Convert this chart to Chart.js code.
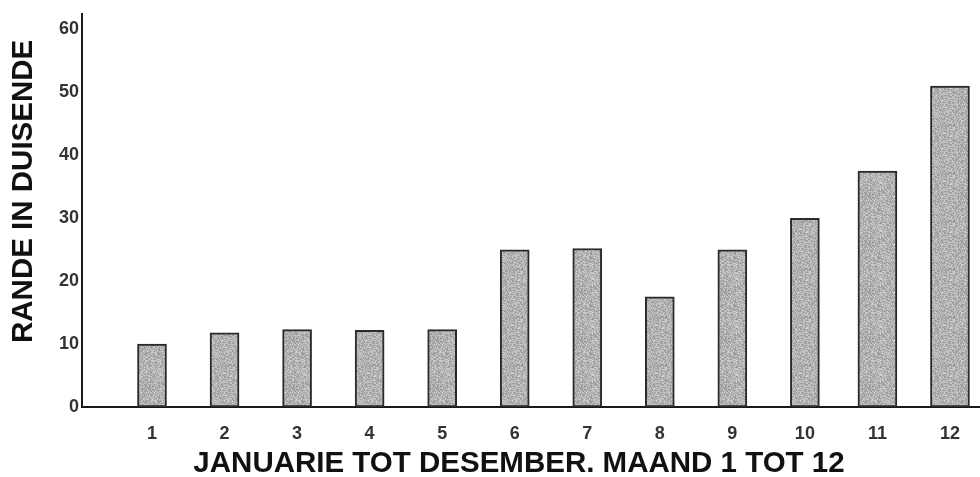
<!DOCTYPE html>
<html>
<head>
<meta charset="utf-8">
<script src="https://cdn.jsdelivr.net/npm/chart.js@4/dist/chart.umd.min.js"></script>
<style>
  html, body { margin: 0; padding: 0; background: #ffffff; }
  #wrap { width: 980px; height: 477px; }
</style>
</head>
<body>
<div id="wrap"><canvas id="c" width="980" height="477"></canvas></div>
<script>
// ---- data ----
const months = [1, 2, 3, 4, 5, 6, 7, 8, 9, 10, 11, 12];
const monthLabels = ['1', '2', '3', '4', '5', '6', '7', '8', '9', '10', '11', '12'];
const rand = [10, 11.8, 12.3, 12.2, 12.3, 25, 25.2, 17.5, 25, 30, 37.5, 51];
const yTicks = [0, 10, 20, 30, 40, 50, 60];
const yTitle = 'RANDE IN DUISENDE';
const xTitle = 'JANUARIE TOT DESEMBER. MAAND 1 TOT 12';

// speckled grey fill (styling only)
function makePattern() {
  const n = 48;
  const c = document.createElement('canvas');
  c.width = n; c.height = n;
  const g = c.getContext('2d');
  const img = g.createImageData(n, n);
  for (let i = 0; i < n * n; i++) {
    const h = Math.abs(Math.sin(i * 12.9898 + 78.233) * 43758.5453) % 1;
    const v = Math.round(148 + h * 62);
    img.data[i * 4] = v; img.data[i * 4 + 1] = v - 2; img.data[i * 4 + 2] = v + 1;
    img.data[i * 4 + 3] = 255;
  }
  g.putImageData(img, 0, 0);
  return g.createPattern(c, 'repeat');
}
const fill = makePattern();

const narrow = [], wide = [];
months.forEach((m, i) => {
  (i < 10 ? narrow : wide).push({ x: m, y: rand[i] });
});

const FONT = "'Liberation Sans', Arial, sans-serif";

const titlesPlugin = {
  id: 'titles',
  afterDraw(chart) {
    const ctx = chart.ctx;
    const a = chart.chartArea;
    ctx.save();
    ctx.fillStyle = '#111111';
    ctx.textAlign = 'center';
    ctx.textBaseline = 'middle';
    ctx.font = "bold 29.5px " + FONT;
    // x-axis title
    ctx.fillText(xTitle, (a.left + a.right) / 2 - 12, chart.height - 13);
    // y-axis title
    ctx.translate(24, (a.top + a.bottom) / 2 - 19);
    ctx.rotate(-Math.PI / 2);
    ctx.fillText(yTitle, 0, 0);
    ctx.restore();
  }
};

new Chart(document.getElementById('c'), {
  type: 'bar',
  data: {
    datasets: [
      { data: narrow, backgroundColor: fill, borderColor: '#2a2a2a', borderWidth: 2,
        barThickness: 29, grouped: false, borderSkipped: false },
      { data: wide, backgroundColor: fill, borderColor: '#2a2a2a', borderWidth: 2,
        barThickness: 39, grouped: false, borderSkipped: false }
    ]
  },
  options: {
    responsive: false,
    devicePixelRatio: 1,
    animation: false,
    layout: { padding: { left: 0, right: 0, top: 10, bottom: 0 } },
    plugins: { legend: { display: false }, tooltip: { enabled: false } },
    scales: {
      x: {
        type: 'linear',
        offset: false,
        min: 0.035,
        max: 12.414,
        grid: { display: false, drawTicks: false },
        border: { display: true, color: '#1a1a1a', width: 2 },
        afterBuildTicks: (axis) => { axis.ticks = months.map(v => ({ value: v })); },
        afterFit: (axis) => { axis.height = 70; },
        ticks: {
          padding: 16,
          color: '#333333',
          font: { family: FONT, size: 18, weight: 'bold' },
          callback: (v) => monthLabels[months.indexOf(v)] ?? ''
        },
        title: { display: false }
      },
      y: {
        min: 0,
        max: 62.5,
        grid: { display: false, drawTicks: false },
        border: { display: true, color: '#1a1a1a', width: 2 },
        afterBuildTicks: (axis) => { axis.ticks = yTicks.map(v => ({ value: v })); },
        afterFit: (axis) => { axis.width = 82; },
        ticks: {
          padding: 3,
          color: '#333333',
          font: { family: FONT, size: 18, weight: 'bold' }
        }
      }
    }
  },
  plugins: [titlesPlugin]
});
</script>
</body>
</html>
